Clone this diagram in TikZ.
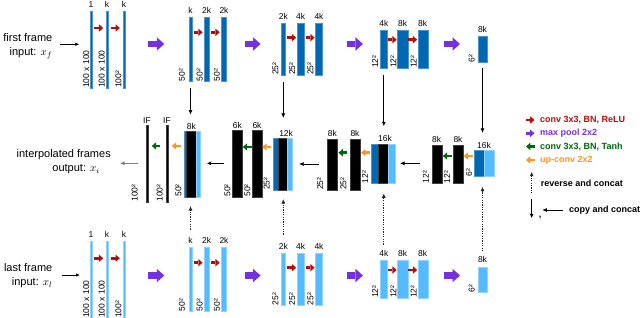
\documentclass[tikz,border=0pt]{standalone}
\usepackage{fontspec}
\setmainfont{Liberation Sans}
\usetikzlibrary{arrows.meta,calc}
\definecolor{dblue}{RGB}{0,104,178}
\definecolor{lblue}{RGB}{85,187,255}
\definecolor{cred}{RGB}{180,14,10}
\definecolor{cpurple}{RGB}{118,48,222}
\definecolor{cgreen}{RGB}{0,104,12}
\definecolor{corange}{RGB}{255,150,28}
% operation arrow between two bars: style, left node, right node, y, half length, offset
\newcommand\opR[6]{\draw[#1] ($(#2.east |- 0,#4)!0.5!(#3.west |- 0,#4)+(#6-#5,0)$) -- ($(#2.east |- 0,#4)!0.5!(#3.west |- 0,#4)+(#6+#5,0)$);}
\newcommand\opL[6]{\draw[#1] ($(#2.east |- 0,#4)!0.5!(#3.west |- 0,#4)+(#6+#5,0)$) -- ($(#2.east |- 0,#4)!0.5!(#3.west |- 0,#4)+(#6-#5,0)$);}
\newcommand\toplab[3][3.5]{\node[lab] (l#2) at ([yshift=#1pt]#2.north) {#3};}
\newcommand\sidelab[3][1.5]{\node[rlab] (s#2) at ([xshift=-#1pt]#2.south west) {#3};}
\begin{document}
\begin{tikzpicture}[x=1pt,y=-1pt,
  bar/.style 2 args={rectangle,inner sep=0pt,outer sep=0pt,line width=0.4pt,minimum width=#1pt,minimum height=#2pt},
  dbar/.style 2 args={bar={#1}{#2},fill=dblue,draw=dblue!70!white},
  lbar/.style 2 args={bar={#1}{#2},fill=lblue,draw=lblue!65!white},
  kbar/.style 2 args={bar={#1}{#2},fill=black,draw=black!75!white},
  hbar/.style 2 args={bar={#1}{#2}},
  lab/.style={font=\fontsize{8.5}{10}\selectfont,inner sep=0pt,anchor=south},
  rlab/.style={font=\fontsize{8.5}{10}\selectfont,inner sep=0pt,rotate=90,anchor=south west},
  maintxt/.style={font=\fontsize{11}{14}\selectfont,align=right,inner sep=0pt,anchor=east},
  legtxt/.style={font=\bfseries\fontsize{9}{11}\selectfont,inner sep=0pt,anchor=west},
  smallop/.style={line width=2.8pt,-{Triangle[length=4.3pt,width=7.4pt,line width=0pt]}},
  redarr/.style={smallop,cred},
  grnarr/.style={smallop,cgreen},
  orgarr/.style={smallop,corange},
  purarrs/.style={smallop,cpurple},
  purarr/.style={cpurple,line width=6.5pt,-{Triangle[length=7.5pt,width=13.5pt,line width=0pt]}},
  inarr/.style={black,line width=0.7pt,-{Latex[length=4pt,width=3.4pt]}},
  cparr/.style={black,line width=0.8pt,-{Latex[length=4.5pt,width=4pt]}},
  rvarr/.style={black!85,line width=0.8pt,dash pattern=on 1.2pt off 1.2pt,-{Latex[length=4.5pt,width=4pt]}},
  outarr/.style={gray,line width=0.8pt,-{Latex[length=4.5pt,width=4pt]}}
]
\path[fill=white,use as bounding box] (0,0) rectangle (640,318);

% ---------------- top row (first frame) ----------------
\node[dbar={1.8}{77}] (t11) at (91,49.5) {};
\node[dbar={2.4}{77}] (t12) at (107,49.5) {};
\node[dbar={2.6}{77}] (t13) at (124,49.5) {};
\node[dbar={2.5}{64.5}] (t21) at (190.5,49.3) {};
\node[dbar={5.2}{64.5}] (t22) at (206.7,49.3) {};
\node[dbar={5.3}{64.5}] (t23) at (224,49.3) {};
\node[dbar={4.5}{52}] (t31) at (283.3,49.2) {};
\node[dbar={7.3}{52}] (t32) at (300.7,49.2) {};
\node[dbar={7.3}{52}] (t33) at (319,49.2) {};
\node[dbar={7}{38}] (t41) at (383.8,49) {};
\node[dbar={10.7}{38}] (t42) at (402.7,49) {};
\node[dbar={10}{38}] (t43) at (422.7,49) {};
\node[dbar={9.6}{25.6}] (t51) at (482.5,49.5) {};

\toplab{t11}{1}\toplab{t12}{k}\toplab{t13}{k}
\toplab{t21}{k}\toplab{t22}{2k}\toplab{t23}{2k}
\toplab{t31}{2k}\toplab{t32}{4k}\toplab{t33}{4k}
\toplab{t41}{4k}\toplab{t42}{8k}\toplab{t43}{8k}
\toplab{t51}{8k}
\sidelab[0.8]{t11}{100 x 100}\sidelab[0.8]{t12}{100 x 100}\sidelab[1]{t13}{100²}
\sidelab[4]{t21}{50²}\sidelab[1.3]{t22}{50²}\sidelab[1.3]{t23}{50²}
\sidelab[2.3]{t31}{25²}\sidelab[1.7]{t32}{25²}\sidelab[1.6]{t33}{25²}
\sidelab[2]{t41}{12²}\sidelab[0.8]{t42}{12²}\sidelab[1]{t43}{12²}
\sidelab[2.7]{t51}{6²}

\opR{redarr}{t11}{t12}{28}{4.4}{0}
\opR{redarr}{t12}{t13}{28}{4.4}{0}
\opR{redarr}{t21}{t22}{32.3}{4.4}{0.3}
\opR{redarr}{t22}{t23}{32.3}{4.4}{0}
\opR{redarr}{t31}{t32}{37.7}{4.4}{0.5}
\opR{redarr}{t32}{t33}{37.7}{4.4}{0.4}
\opR{redarr}{t41}{t42}{39.7}{4.4}{0}
\opR{redarr}{t42}{t43}{39.7}{4.4}{0}
\opR{purarr}{t13}{t21}{44}{8}{-1}
\opR{purarr}{t23}{t31}{44}{8}{-1.3}
\opR{purarr}{t33}{t41}{44}{8}{3.4}
\opR{purarr}{t43}{t51}{44}{8}{-0.7}

\node[maintxt] (intop) at (52.5,46) {first frame\\input: $x_f$};
\draw[inarr] ($(intop.east |- 0,44.3)+(7,0)$) -- ($(t11.west |- 0,44.3)+(-10.8,0)$);

% ---------------- bottom row (last frame) ----------------
\node[lbar={1.8}{77}] (b11) at (91,279.5) {};
\node[lbar={2.4}{77}] (b12) at (107,279.5) {};
\node[lbar={2.6}{77}] (b13) at (124,279.5) {};
\node[lbar={2.5}{64.5}] (b21) at (190.5,279.3) {};
\node[lbar={5.2}{64.5}] (b22) at (206.7,279.3) {};
\node[lbar={5.3}{64.5}] (b23) at (224,279.3) {};
\node[lbar={4.5}{52}] (b31) at (283.3,279.2) {};
\node[lbar={7.3}{52}] (b32) at (300.7,279.2) {};
\node[lbar={7.3}{52}] (b33) at (319,279.2) {};
\node[lbar={7}{38}] (b41) at (383.8,279) {};
\node[lbar={10.7}{38}] (b42) at (402.7,279) {};
\node[lbar={10}{38}] (b43) at (422.7,279) {};
\node[lbar={9.6}{25.6}] (b51) at (482.5,279.5) {};

\toplab{b11}{1}\toplab{b12}{k}\toplab{b13}{k}
\toplab{b21}{k}\toplab{b22}{2k}\toplab{b23}{2k}
\toplab{b31}{2k}\toplab{b32}{4k}\toplab{b33}{4k}
\toplab{b41}{4k}\toplab{b42}{8k}\toplab{b43}{8k}
\toplab{b51}{8k}
\sidelab[0.8]{b11}{100 x 100}\sidelab[0.8]{b12}{100 x 100}\sidelab[1]{b13}{100²}
\sidelab[4]{b21}{50²}\sidelab[1.3]{b22}{50²}\sidelab[1.3]{b23}{50²}
\sidelab[2.3]{b31}{25²}\sidelab[1.7]{b32}{25²}\sidelab[1.6]{b33}{25²}
\sidelab[2]{b41}{12²}\sidelab[0.8]{b42}{12²}\sidelab[1]{b43}{12²}
\sidelab[2.7]{b51}{6²}

\opR{redarr}{b11}{b12}{258.3}{4.4}{0}
\opR{redarr}{b12}{b13}{258.3}{4.4}{0}
\opR{redarr}{b21}{b22}{262.7}{4.4}{0.3}
\opR{redarr}{b22}{b23}{262.7}{4.4}{0}
\opR{redarr}{b31}{b32}{267.7}{4.4}{0.5}
\opR{redarr}{b32}{b33}{267.7}{4.4}{0.4}
\opR{redarr}{b41}{b42}{270}{4.4}{0}
\opR{redarr}{b42}{b43}{270}{4.4}{0}
\opR{purarr}{b13}{b21}{275.5}{8}{-1}
\opR{purarr}{b23}{b31}{275.5}{8}{-1.3}
\opR{purarr}{b33}{b41}{275.5}{8}{3.4}
\opR{purarr}{b43}{b51}{275.5}{8}{-0.7}

\node[maintxt] (inbot) at (52.5,275.5) {last frame\\input: $x_l$};
\draw[inarr] ($(inbot.east |- 0,275)+(9.2,0)$) -- ($(b11.west |- 0,275)+(-10.1,0)$);

% ---------------- middle row (decoder) ----------------
\node[kbar={2}{76}] (if1) at (147,163.7) {};
\node[kbar={2}{76}] (if2) at (167,163.7) {};

\node[hbar={16}{65}] (m50) at (192.5,164.2) {};
\node[dbar={1.8}{65},anchor=west] (m50a) at (m50.west) {};
\node[kbar={10.2}{65},anchor=west] (m50b) at (m50a.east) {};
\node[lbar={4}{65},anchor=west] (m50c) at (m50b.east) {};

\node[kbar={10}{66}] (k61) at (237.3,163.7) {};
\node[kbar={9.6}{66}] (k62) at (257,163.7) {};

\node[hbar={19.8}{51.7}] (m25) at (282.6,164.2) {};
\node[dbar={5}{51.7},anchor=west] (m25a) at (m25.west) {};
\node[kbar={9.8}{51.7},anchor=west] (m25b) at (m25a.east) {};
\node[lbar={5}{51.7},anchor=west] (m25c) at (m25b.east) {};

\node[kbar={10}{51}] (k251) at (332.3,164.5) {};
\node[kbar={10}{51}] (k252) at (355,164.5) {};

\node[hbar={24}{39.3}] (m12) at (383,163.7) {};
\node[dbar={7}{39.3},anchor=west] (m12a) at (m12.west) {};
\node[kbar={9.7}{39.3},anchor=west] (m12b) at (m12a.east) {};
\node[lbar={7.3}{39.3},anchor=west] (m12c) at (m12b.east) {};

\node[kbar={10}{38.3}] (k121) at (436.7,164.2) {};
\node[kbar={10.6}{38.3}] (k122) at (458,164.2) {};

\node[hbar={19.4}{26}] (m6) at (484,163.7) {};
\node[dbar={9.7}{26},anchor=west] (m6a) at (m6.west) {};
\node[lbar={9.7}{26},anchor=west] (m6b) at (m6a.east) {};

\toplab[2]{if1}{IF}\toplab[2]{if2}{IF}
\node[lab] (lm50) at ([yshift=2pt]m50b.north) {8k};
\toplab[2]{k61}{6k}\toplab[2]{k62}{6k}
\node[lab] (lm25) at ([xshift=3.5pt,yshift=2pt]m25.north) {12k};
\toplab[2]{k251}{8k}\toplab[2]{k252}{8k}
\node[lab] (lm12) at ([xshift=2pt,yshift=2pt]m12.north) {16k};
\toplab[2]{k121}{8k}\toplab[2]{k122}{8k}
\node[lab] (lm6) at ([yshift=2pt]m6.north) {16k};

\sidelab[8]{if1}{100²}\sidelab[3]{if2}{100²}
\sidelab[2.8]{m50}{50²}
\sidelab[1.6]{k61}{50²}\sidelab[1.5]{k62}{50²}
\sidelab[2.7]{m25}{25²}
\sidelab[4]{k251}{25²}\sidelab[3.3]{k252}{25²}
\sidelab[2.7]{m12}{12²}
\sidelab[2.7]{k121}{12²}\sidelab[2.3]{k122}{12²}
\sidelab[2]{m6}{6²}

\opL{grnarr}{if1}{if2}{146}{4.2}{-1}
\opL{orgarr}{if2}{m50}{146}{4.4}{0}
\opL{grnarr}{k61}{k62}{147}{4.4}{0}
\opL{orgarr}{k62}{m25}{147}{4.4}{-0.5}
\opL{grnarr}{k251}{k252}{152.7}{4.2}{-1}
\opL{orgarr}{k252}{m12}{152.7}{4.4}{0}
\opL{grnarr}{k121}{k122}{156}{4.4}{0}
\opL{orgarr}{k122}{m6}{156}{4.4}{-0.7}

\draw[cparr] ($(k61.west |- 0,163.3)+(-8.3,0)$) -- ($(m50.east |- 0,163.3)+(6.2,0)$);
\draw[cparr] ($(k251.west |- 0,164)+(-8,0)$) -- ($(m25.east |- 0,164)+(6.5,0)$);
\draw[cparr] ($(k121.west |- 0,163.3)+(-11.7,0)$) -- ($(m12.east |- 0,163.3)+(5,0)$);

\node[maintxt] (outtxt) at (111,162) {interpolated frames\\output: $x_i$\hspace*{11pt}};
\draw[outarr] ($(if1.west |- 0,163.3)+(-7.7,0)$) -- ($(outtxt.east |- 0,163.3)+(9,0)$);

% copy and concat (top to middle)
\draw[cparr] ($(t21.south)+(0,6.5)$) -- ($(t21.south |- lm50.north)+(0,-8.5)$);
\draw[cparr] ($(t31.south)+(0,6.8)$) -- ($(t31.south |- lm25.north)+(0,-11.8)$);
\draw[cparr] ($(t41.south)+(0,7)$) -- ($(t41.south |- lm12.north)+(0,-9.1)$);
\draw[cparr] ($(t51.south)+(0,6)$) -- ($(t51.south |- lm6.north)+(0,-9.2)$);

% reverse and concat (bottom to middle)
\draw[rvarr] ($(lb21.north)+(0,-7.3)$) -- ($(lb21.north |- m50.south)+(0,9.3)$);
\draw[rvarr] ($(lb31.north)+(0,-8.5)$) -- ($(lb31.north |- m25.south)+(0,9)$);
\draw[rvarr] ($(lb41.north)+(0,-5.3)$) -- ($(lb41.north |- m12.south)+(0,10)$);
\draw[rvarr] ($(lb51.north)+(0,-5.3)$) -- ($(lb51.north |- m6.south)+(0,10)$);

% ---------------- legend ----------------
\node[legtxt,text=cred] (lg1) at (540,120) {conv 3x3, BN, ReLU};
\node[legtxt,text=cpurple] (lg2) at (540,133.3) {max pool 2x2};
\node[legtxt,text=cgreen] (lg3) at (540,146.5) {conv 3x3, BN, Tanh};
\node[legtxt,text=corange] (lg4) at (540,160) {up-conv 2x2};
\node[legtxt] (lg5) at (540.7,183.3) {reverse and concat};
\node[legtxt] (lg6) at (569,210) {copy and concat};
\node[legtxt,anchor=center] (lg7) at (540,217.5) {,};
\draw[redarr] ($(lg1.west)+(-14,0)$) -- ($(lg1.west)+(-5.5,0)$);
\draw[purarrs] ($(lg2.west)+(-14,0)$) -- ($(lg2.west)+(-5.5,0)$);
\draw[grnarr] ($(lg3.west)+(-5.5,0)$) -- ($(lg3.west)+(-14,0)$);
\draw[orgarr] ($(lg4.west)+(-5.5,0)$) -- ($(lg4.west)+(-14,0)$);
\draw[rvarr] ($(lg5.west)+(-9,10)$) -- ($(lg5.west)+(-9,-11.6)$);
\draw[cparr] ($(lg6.west)+(-37.3,-10.7)$) -- ($(lg6.west)+(-37.3,8.3)$);
\draw[cparr] ($(lg6.west)+(-6.3,0)$) -- ($(lg6.west)+(-26.7,0)$);
\end{tikzpicture}
\end{document}
